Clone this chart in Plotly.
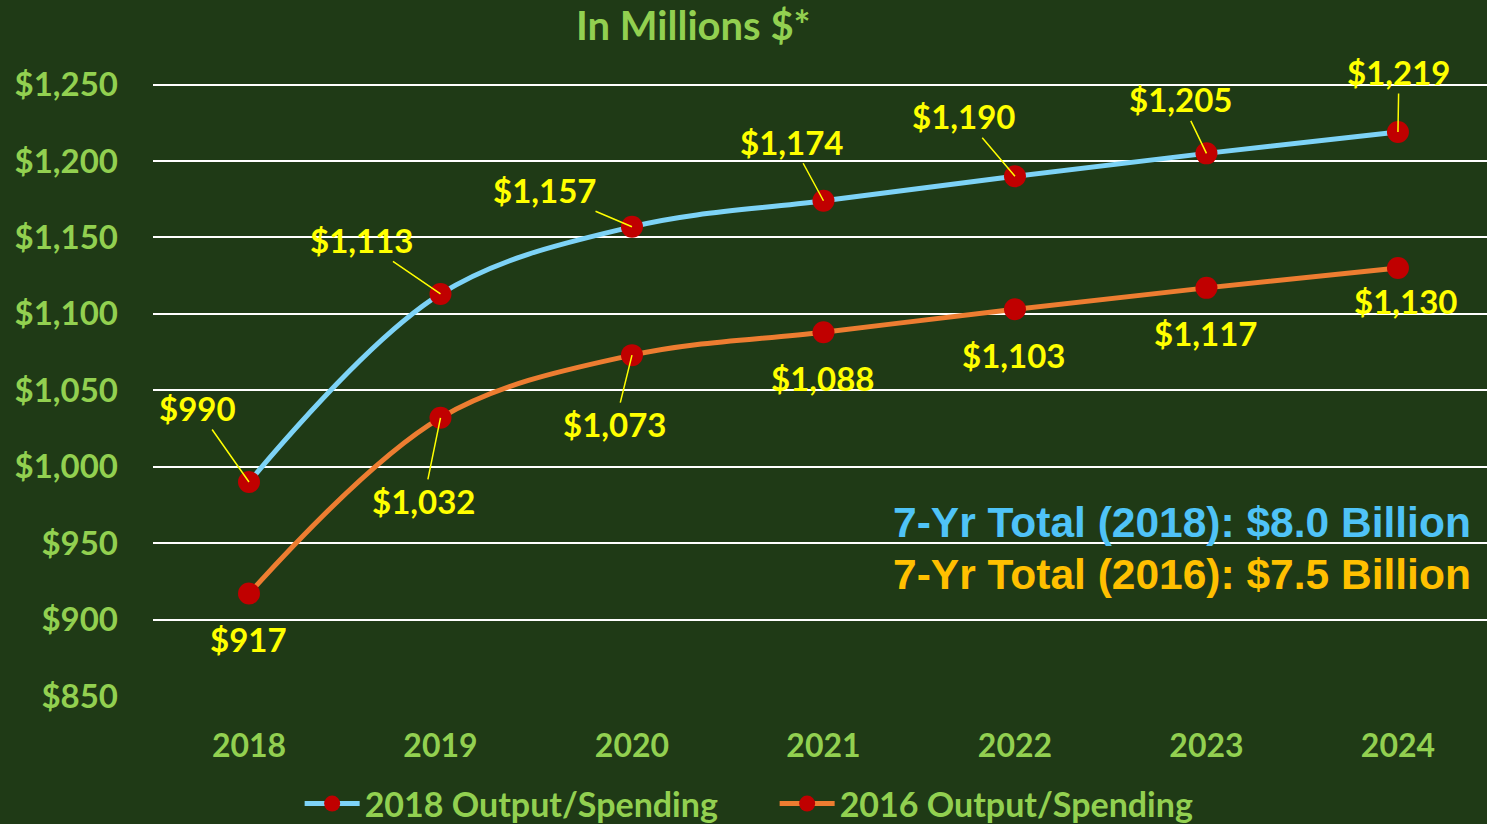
import plotly.graph_objects as go

years = ["2018", "2019", "2020", "2021", "2022", "2023", "2024"]
spend_2018 = [990, 1113, 1157, 1174, 1190, 1205, 1219]
spend_2016 = [917, 1032, 1073, 1088, 1103, 1117, 1130]
y_ticks = [850, 900, 950, 1000, 1050, 1100, 1150, 1200, 1250]

# label offsets (px) relative to points: (dx, dy, leader)
off_2018 = [(-52, -74, True), (-79, -54, True), (-87, -37, True), (-32, -59, True),
            (-51, -60, True), (-26, -54, True), (1, -60, True)]
off_2016 = [(-1, 45, False), (-17, 83, True), (-17, 69, True), (-1, 46, False),
            (-1, 46, False), (-1, 45, False), (8, 33, False)]

GREEN = "#92D050"
YELLOW = "#FFFF00"
FONT = "Lato"

fig = go.Figure()
fig.add_trace(go.Scatter(
    x=years, y=spend_2018, mode="lines+markers", name="2018 Output/Spending",
    line=dict(color="#7DD3F7", width=5, shape="spline", smoothing=1),
    marker=dict(color="#C00000", size=22)))
fig.add_trace(go.Scatter(
    x=years, y=spend_2016, mode="lines+markers", name="2016 Output/Spending",
    line=dict(color="#ED7D31", width=5, shape="spline", smoothing=1),
    marker=dict(color="#C00000", size=22)))

annotations = []
for vals, offs in ((spend_2018, off_2018), (spend_2016, off_2016)):
    for i, (v, (dx, dy, leader)) in enumerate(zip(vals, offs)):
        txt = "${:,}".format(v)
        if leader:
            annotations.append(dict(
                x=i, y=v, xref="x", yref="y", text=txt, showarrow=True,
                ax=dx, ay=dy, arrowhead=0, arrowwidth=1.5, arrowcolor=YELLOW,
                standoff=0, font=dict(family=FONT, size=33, color=YELLOW, weight="bold")))
        else:
            annotations.append(dict(
                x=i, y=v, xref="x", yref="y", text=txt, showarrow=False,
                xshift=dx, yshift=-dy,
                font=dict(family=FONT, size=33, color=YELLOW, weight="bold")))

annotations.append(dict(
    x=0.405, y=1.045, xref="paper", yref="paper", yanchor="middle",
    text="In Millions $*", showarrow=False,
    font=dict(family=FONT, size=40, color=GREEN, weight="bold")))
annotations.append(dict(
    x=0.9895, y=0.271, xref="paper", yref="paper", xanchor="right", yanchor="middle",
    text="7-Yr Total (2018): $8.0 Billion", showarrow=False,
    font=dict(family="Liberation Sans", size=42.5, color="#4FC3F7", weight="bold")))
annotations.append(dict(
    x=0.9895, y=0.190, xref="paper", yref="paper", xanchor="right", yanchor="middle",
    text="7-Yr Total (2016): $7.5 Billion", showarrow=False,
    font=dict(family="Liberation Sans", size=42.5, color="#FFC000", weight="bold")))

fig.update_layout(
    width=1487, height=824,
    margin=dict(l=153, r=0, t=54, b=128),
    paper_bgcolor="#1f3a16", plot_bgcolor="rgba(0,0,0,0)",
    showlegend=True,
    legend=dict(orientation="h", xref="paper", x=0.466, xanchor="center",
                yref="container", y=1 - 804 / 824, yanchor="middle",
                font=dict(family=FONT, size=34, color=GREEN, weight="bold"),
                bgcolor="rgba(0,0,0,0)", itemwidth=55, entrywidth=405),
    annotations=annotations,
    xaxis=dict(type="category", range=[-0.5013, 6.465], showgrid=False, zeroline=False,
               showline=False, ticks="", ticklabelstandoff=28,
               tickfont=dict(family=FONT, size=32, color=GREEN, weight="bold")),
    yaxis=dict(range=[850, 1270], tickvals=y_ticks,
               ticktext=["${:,}".format(t) for t in y_ticks],
               showgrid=True, gridcolor="#FFFFFF", gridwidth=2, zeroline=False,
               showline=False, ticks="", ticklabelstandoff=34,
               tickfont=dict(family=FONT, size=33, color=GREEN, weight="bold")),
)

fig.write_html("out.html", config={"displayModeBar": False},
               post_script="document.body.style.margin='0';")
